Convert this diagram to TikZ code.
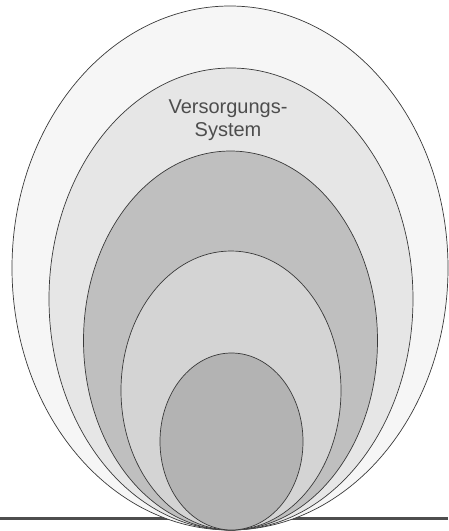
\documentclass[tikz,border=0pt]{standalone}
\usepackage{fontspec}
\setmainfont{Liberation Sans}
\usetikzlibrary{shapes.geometric}
\definecolor{edge}{HTML}{3A3A3A}
\definecolor{txt}{HTML}{4D4D4D}
\definecolor{ringA}{HTML}{F6F6F6}
\definecolor{ringB}{HTML}{E6E6E6}
\definecolor{ringC}{HTML}{BFBFBF}
\definecolor{ringD}{HTML}{D4D4D4}
\definecolor{ringE}{HTML}{B3B3B3}
\tikzset{
  ring/.style={ellipse, draw=edge, line width=0.7pt, inner sep=0pt},
  ground/.style={draw=edge!90, line width=3pt},
  lbl/.style={text=txt, font=\fontsize{20}{23}\selectfont, align=center, inner sep=0pt}
}
\begin{document}
\begin{tikzpicture}[x=1pt,y=-1pt]
\useasboundingbox (0,0) rectangle (448,531);
\coordinate (gl) at (0,518);
\coordinate (gr) at (448,518);
\draw[ground] (gl) -- (gr);
\node[ring, fill=ringA, minimum width=436pt, minimum height=524pt] (e1) at (230,268) {};
\node[ring, fill=ringB, minimum width=364pt, minimum height=462pt] (e2) at (231,299) {};
\node[ring, fill=ringC, minimum width=294pt, minimum height=379pt] (e3) at (230.5,340.5) {};
\node[ring, fill=ringD, minimum width=220pt, minimum height=279pt] (e4) at (231,390.5) {};
\node[ring, fill=ringE, minimum width=143pt, minimum height=177pt] (e5) at (231.5,441.5) {};
\node[lbl] (t) at (228,120) {Versorgungs-\\System};
\end{tikzpicture}
\end{document}
